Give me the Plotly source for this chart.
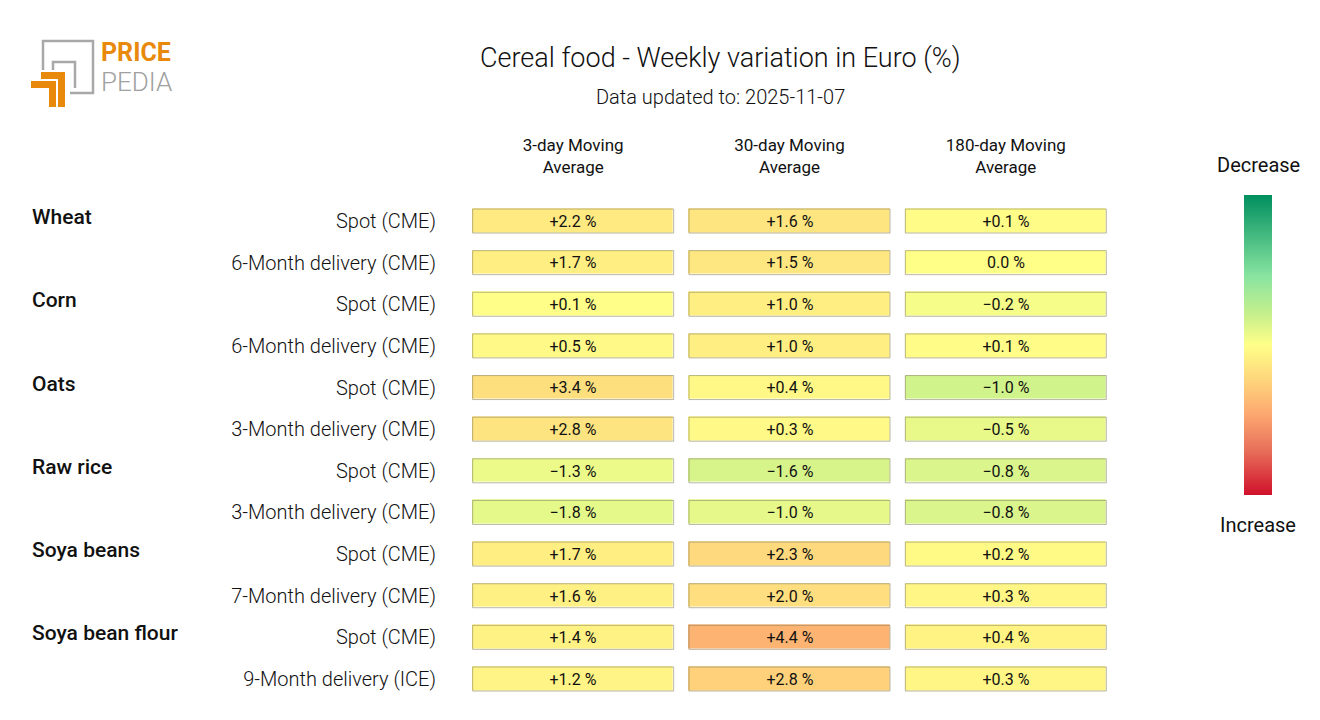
import plotly.graph_objects as go

# ---------------- data ----------------
columns = ["3-day Moving<br>Average", "30-day Moving<br>Average", "180-day Moving<br>Average"]
row_labels = ["Spot (CME)", "6-Month delivery (CME)",
              "Spot (CME)", "6-Month delivery (CME)",
              "Spot (CME)", "3-Month delivery (CME)",
              "Spot (CME)", "3-Month delivery (CME)",
              "Spot (CME)", "7-Month delivery (CME)",
              "Spot (CME)", "9-Month delivery (ICE)"]
groups = ["Wheat", "Corn", "Oats", "Raw rice", "Soya beans", "Soya bean flour"]
group_rows = [0, 2, 4, 6, 8, 10]

ma3 = [2.2, 1.7, 0.1, 0.5, 3.4, 2.8, -1.3, -1.8, 1.7, 1.6, 1.4, 1.2]
ma30 = [1.6, 1.5, 1.0, 1.0, 0.4, 0.3, -1.6, -1.0, 2.3, 2.0, 4.4, 2.8]
ma180 = [0.1, 0.0, -0.2, 0.1, -1.0, -0.5, -0.8, -0.8, 0.2, 0.3, 0.4, 0.3]
col_scale = [19.0, 11.0, 6.0]   # per-column colour range (half-span)

series = [ma3, ma30, ma180]

# page has an 8px body margin: map reference pixels onto the figure
OFF = 8
W, H = 1320 - 2 * OFF, 720 - 2 * OFF


def px_x(x):
    return (x - OFF) / W


def px_y(y):
    return 1 - (y - OFF) / H


def fmt(v):
    if v > 0:
        return f"+{v:.1f} %"
    if v < 0:
        return f"\u2212{abs(v):.1f} %"
    return f"{v:.1f} %"


n_rows = len(row_labels)
n_cols = len(columns)
z = [[-series[j][i] / col_scale[j] for j in range(n_cols)] for i in range(n_rows)]
txt = [[fmt(series[j][i]) for j in range(n_cols)] for i in range(n_rows)]

colorscale = [
    [0.0, "#d0112b"],
    [0.15, "#e8705a"],
    [0.27, "#fca870"],
    [0.37, "#fed07a"],
    [0.5, "#ffff88"],
    [0.6, "#c8f08c"],
    [0.73, "#88e4a0"],
    [1.0, "#008f5f"],
]

FONT = "Roboto"

# geometry (reference pixels)
x_left, x_right = 465, 1114
y_top, y_bot = 200.2, 699.8
col_px = (x_right - x_left) / n_cols
row_px = (y_bot - y_top) / n_rows
cell_w, cell_h = 201, 24

fig = go.Figure()
fig.add_trace(go.Heatmap(
    z=z, x=list(range(n_cols)), y=list(range(n_rows)),
    text=txt, texttemplate="%{text}",
    textfont=dict(family=FONT, size=16, color="#111"),
    colorscale=colorscale, zmin=-1, zmax=1,
    xgap=col_px - cell_w, ygap=row_px - cell_h,
    hoverinfo="skip",
    colorbar=dict(
        x=px_x(1244), xanchor="left", xpad=0, ypad=0, thickness=28,
        y=px_y(345), yanchor="middle", len=300 / H, lenmode="fraction",
        outlinewidth=0, showticklabels=False, ticks="",
    ),
))

# cell borders
hx = cell_w / col_px / 2
hy = cell_h / row_px / 2
for i in range(n_rows):
    for j in range(n_cols):
        fig.add_shape(type="rect", xref="x", yref="y",
                      x0=j - hx, x1=j + hx, y0=i - hy, y1=i + hy,
                      line=dict(color="rgba(130,125,100,0.55)", width=1),
                      fillcolor="rgba(0,0,0,0)", layer="above")

ann = []
# group labels
for g, r in zip(groups, group_rows):
    ann.append(dict(text=g, x=px_x(30), xref="paper", xanchor="left",
                    y=r, yref="y", yanchor="middle", yshift=4, showarrow=False,
                    font=dict(family=FONT, size=21, color="#111", weight=500)))


def centered(text, x, y, size, weight=400):
    return dict(text=text, x=px_x(x), y=px_y(y), xref="paper", yref="paper",
                xanchor="center", yanchor="middle", showarrow=False,
                font=dict(family=FONT, size=size, color="#111", weight=weight))


# titles
ann.append(centered("Cereal food - Weekly variation in Euro (%)", 720, 58, 27, 300))
ann.append(centered("Data updated to: 2025-11-07", 720, 97, 20, 300))
ann.append(centered("Decrease", 1258, 165, 20))
ann.append(centered("Increase", 1258, 525, 20))

# logo text
ann.append(dict(text="<b>PRICE</b>", x=px_x(99), y=px_y(52), xref="paper", yref="paper",
                xanchor="left", yanchor="middle", showarrow=False,
                font=dict(family=FONT, size=25, color="#e8890c")))
ann.append(dict(text="PEDIA", x=px_x(99), y=px_y(82), xref="paper", yref="paper",
                xanchor="left", yanchor="middle", showarrow=False,
                font=dict(family=FONT, size=26, color="#a0a0a0", weight=300)))


def P(pts, close=False):
    s = "M " + " L ".join(f"{px_x(x)},{px_y(y)}" for x, y in pts)
    return s + (" Z" if close else "")


gray = "#a8a8a8"
orange = "#e8890c"
logo = [
    dict(type="path", path=P([(43, 70), (43, 41), (93, 41), (93, 93), (70, 93)]),
         line=dict(color=gray, width=2.5)),
    dict(type="path", path=P([(53, 70), (53, 62), (75, 62), (75, 88)]),
         line=dict(color=gray, width=2.5)),
    dict(type="path", path=P([(41, 72), (65, 72), (65, 107), (58, 107), (58, 79), (41, 79)], True),
         fillcolor=orange, line=dict(width=0)),
    dict(type="path", path=P([(31, 81), (56, 81), (56, 107), (49, 107), (49, 88), (31, 88)], True),
         fillcolor=orange, line=dict(width=0)),
]
for s in logo:
    s.update(xref="paper", yref="paper")
    fig.add_shape(**s)

fig.update_layout(
    width=W, height=H,
    margin=dict(l=0, r=0, t=0, b=0),
    paper_bgcolor="white", plot_bgcolor="white",
    font=dict(family=FONT, color="#111"),
    annotations=ann,
    xaxis=dict(domain=[px_x(x_left), px_x(x_right)], range=[-0.5, n_cols - 0.5],
               tickvals=list(range(n_cols)), ticktext=columns, side="top",
               showgrid=False, zeroline=False, showline=False, ticks="",
               tickfont=dict(family=FONT, size=17, color="#111"),
               ticklabelstandoff=23, fixedrange=True),
    yaxis=dict(domain=[px_y(y_bot), px_y(y_top)], range=[n_rows - 0.5, -0.5],
               tickvals=list(range(n_rows)), ticktext=row_labels,
               showgrid=False, zeroline=False, showline=False, ticks="",
               tickfont=dict(family=FONT, size=20, color="#111", weight=300),
               ticklabelstandoff=28, fixedrange=True),
)

fig.write_html("out.html")
